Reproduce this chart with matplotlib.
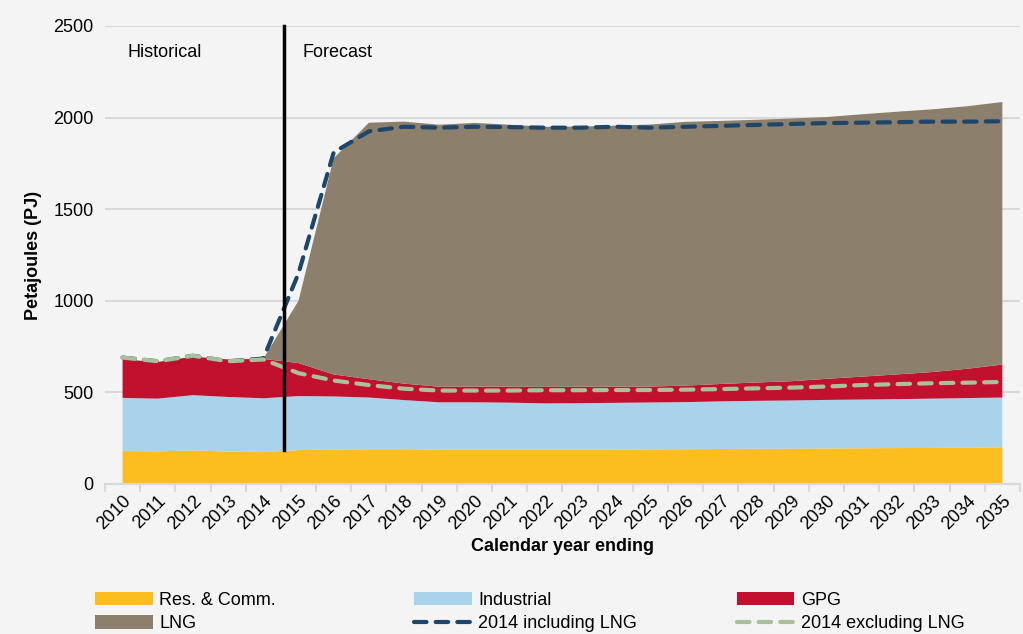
import matplotlib.pyplot as plt
import numpy as np

years = list(range(2010, 2036))
res_comm = [180, 178, 183, 177, 175, 185, 188, 190, 190, 188, 188, 188, 188, 188, 188, 189, 190, 191, 192, 193, 194, 195, 196, 197, 198, 200]
industrial = [290, 288, 302, 298, 293, 295, 290, 282, 268, 258, 258, 256, 252, 253, 255, 256, 257, 260, 262, 263, 265, 266, 267, 269, 271, 272]
gpg = [210, 200, 210, 205, 215, 180, 120, 100, 90, 85, 85, 87, 90, 90, 88, 87, 90, 95, 100, 105, 115, 125, 135, 145, 160, 180]
lng = [0, 0, 0, 0, 0, 340, 1180, 1400, 1430, 1430, 1440, 1430, 1420, 1420, 1425, 1430, 1440, 1436, 1434, 1434, 1429, 1432, 1434, 1434, 1433, 1433]
incl_2014 = [690, 670, 700, 670, 685, 1150, 1810, 1925, 1950, 1945, 1950, 1948, 1945, 1945, 1950, 1945, 1950, 1955, 1960, 1965, 1970, 1972, 1975, 1978, 1978, 1980]
excl_2014 = [690, 670, 700, 670, 680, 605, 565, 540, 520, 510, 510, 510, 512, 512, 513, 513, 515, 518, 522, 526, 532, 540, 545, 550, 553, 557]

c_res = '#fcbd1f'
c_ind = '#a9d2eb'
c_gpg = '#c1112f'
c_lng = '#8c7f6b'
c_incl = '#1d466b'
c_excl = '#a8c198'
bg = '#f4f4f4'

plt.rcParams['font.family'] = ['Liberation Sans', 'DejaVu Sans']

fig = plt.figure(figsize=(10.23, 6.34), dpi=100, facecolor=bg)
ax = fig.add_axes([0.1026, 0.2366, 0.8944, 0.7224], facecolor=bg)

polys = ax.stackplot(years, res_comm, industrial, gpg, lng,
                     colors=[c_res, c_ind, c_gpg, c_lng], linewidth=0)
l_incl, = ax.plot(years, incl_2014, color=c_incl, lw=3, dashes=(3, 2.2), dash_capstyle='round')
l_excl, = ax.plot(years, excl_2014, color=c_excl, lw=3, dashes=(3, 2.2), dash_capstyle='round')

# historical / forecast divider
ax.plot([2014.6, 2014.6], [185, 2500], color='black', lw=2.5, clip_on=False)
ax.text(2010.15, 2330, 'Historical', fontsize=13)
ax.text(2015.1, 2330, 'Forecast', fontsize=13)

ax.set_xlim(2009.5, 2035.5)
ax.set_ylim(0, 2500)
ax.set_yticks([0, 500, 1000, 1500, 2000, 2500])
ax.yaxis.grid(True, color='#d9d9d9', lw=1.5)
ax.set_axisbelow(True)
for s in ['top', 'right', 'left']:
    ax.spines[s].set_visible(False)
ax.spines['bottom'].set_color('#d9d9d9')
ax.spines['bottom'].set_linewidth(1.5)

ax.set_xticks(years)
ax.set_xticklabels([str(y) for y in years], rotation=45, ha='right', rotation_mode='anchor', fontsize=13)
ax.set_xticks(np.arange(2009.5, 2036, 1), minor=True)
ax.tick_params(axis='x', which='major', length=0, pad=6)
ax.tick_params(axis='x', which='minor', length=6, width=1.5, color='#d9d9d9')
ax.tick_params(axis='y', length=0, labelsize=13, pad=8)

ax.set_ylabel('Petajoules (PJ)', fontsize=13, fontweight='bold', labelpad=8)
ax.set_xlabel('Calendar year ending', fontsize=13, fontweight='bold', labelpad=4)

# legend: three columns placed by hand
cols = [([polys[0], polys[3]], ['Res. & Comm.', 'LNG'], 0.093),
        ([polys[1], l_incl], ['Industrial', '2014 including LNG'], 0.405),
        ([polys[2], l_excl], ['GPG', '2014 excluding LNG'], 0.720)]
for h, lab, x0 in cols:
    leg = fig.legend(h, lab, loc='upper left', bbox_to_anchor=(x0, 0.067),
                     frameon=False, fontsize=13, handlelength=3.2, handleheight=0.75,
                     labelspacing=0.38, handletextpad=0.35, borderpad=0, borderaxespad=0)

fig.savefig('out.png', dpi=100, facecolor=bg)
